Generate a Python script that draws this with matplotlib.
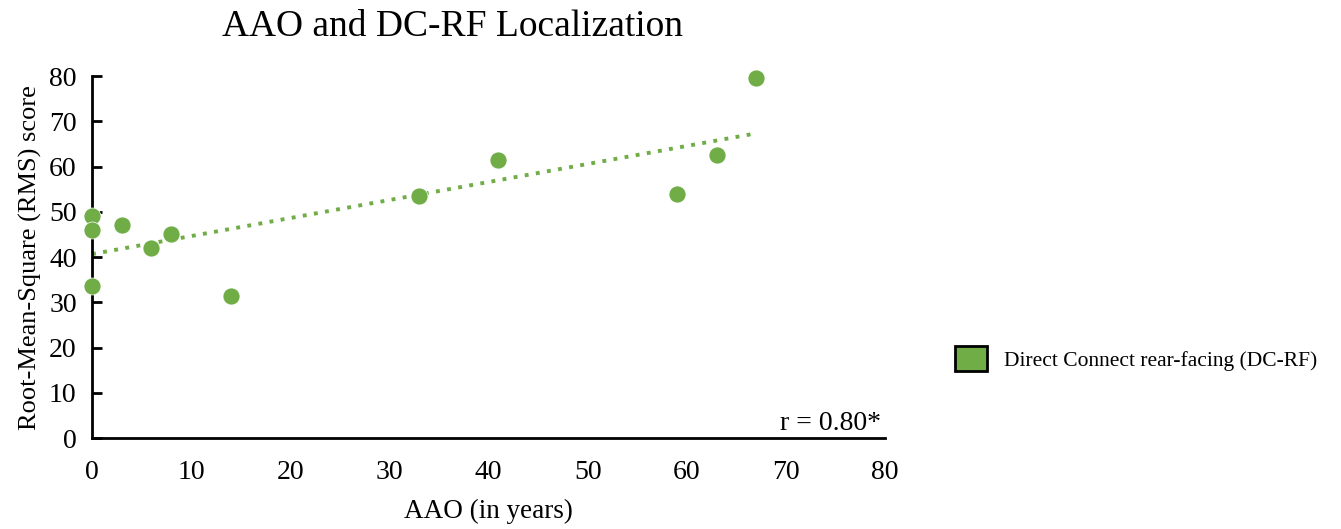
import numpy as np
import matplotlib.pyplot as plt
import matplotlib
from matplotlib.patches import Patch

font = {'family': 'Liberation Serif',
        'size': 20}
matplotlib.rc('font', **font)

# data
aao = [0, 0, 0, 3, 6, 8, 14, 33, 41, 59, 63, 67]
rms = [49.0, 46.0, 33.5, 47.0, 42.0, 45.0, 31.5, 53.5, 61.5, 54.0, 62.5, 79.6]
x_ticks = [0, 10, 20, 30, 40, 50, 60, 70, 80]
y_ticks = [0, 10, 20, 30, 40, 50, 60, 70, 80]

green = '#70AD47'

fig = plt.figure(figsize=(13.41, 5.29), dpi=100)
ax = fig.add_axes([0.0686, 0.172, 0.5914, 0.684])

ax.scatter(aao, rms, s=150, color=green, edgecolor='white', linewidth=0.5,
           zorder=3, clip_on=False)

# linear trendline
slope, intercept = np.polyfit(aao, rms, 1)
xs = np.array([min(aao), max(aao)])
ax.plot(xs, slope * xs + intercept, color=green, linestyle=(0, (1, 1.9)),
        linewidth=2.8, zorder=2, clip_on=False)

ax.set_xlim(0, 80)
ax.set_ylim(0, 80)
ax.set_xticks(x_ticks)
ax.set_yticks(y_ticks)
ax.tick_params(axis='x', length=0, pad=16, labelsize=20)
ax.tick_params(axis='y', direction='in', length=7, width=2, pad=11, labelsize=20)

for side in ['top', 'right']:
    ax.spines[side].set_visible(False)
ax.spines['left'].set_linewidth(2)
ax.spines['bottom'].set_linewidth(2)

ax.set_xlabel('AAO (in years)', fontsize=19.5, labelpad=10)
ax.set_ylabel('Root-Mean-Square (RMS) score', fontsize=19, labelpad=5)
ax.set_title('AAO and DC-RF Localization', fontsize=27, pad=29, x=0.454)

ax.text(0.995, 0.005, 'r = 0.80*', transform=ax.transAxes, ha='right', va='bottom', fontsize=20)

handle = Patch(facecolor=green, edgecolor='black', linewidth=2)
fig.legend([handle], ['Direct Connect rear-facing (DC-RF)'], loc='center left',
           bbox_to_anchor=(0.698, 0.322), frameon=False, fontsize=15.5,
           handlelength=1.45, handleheight=1.45, handletextpad=0.8)

fig.savefig('out.png', dpi=100)
